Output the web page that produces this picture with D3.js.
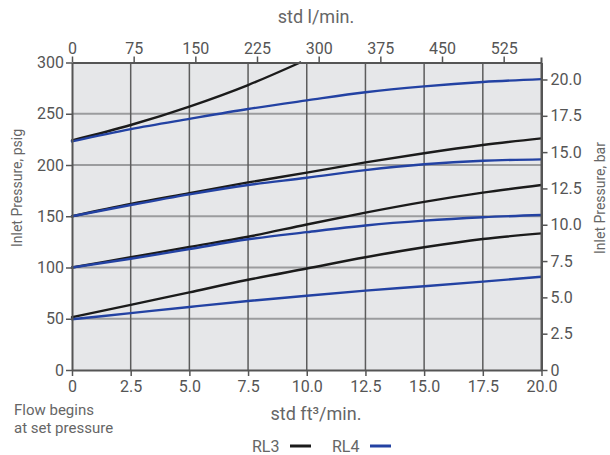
<!DOCTYPE html>
<html>
<head>
<meta charset="utf-8">
<script src="https://cdn.jsdelivr.net/npm/d3@7"></script>
<style>
  html, body { margin: 0; padding: 0; background: #fff; }
  svg { display: block; font-family: Roboto, "Noto Sans", sans-serif; }
</style>
</head>
<body>
<svg id="chart" width="610" height="455"></svg>
<script>
// ---- data ----
const flow = [0, 2.5, 5, 7.5, 10, 12.5, 15, 17.5, 20];
const flowTop = [0, 2.5, 5, 7.5, 9.72];
const rl3A = [224, 239, 257, 278, 300];
const rl3B = [150, 162, 172.5, 183, 192.5, 202.5, 211.5, 219.5, 226];
const rl3C = [100, 110, 120, 130, 142, 153.5, 164, 173, 180.5];
const rl3D = [51.5, 63.5, 75.8, 88, 99, 110, 119.7, 127.8, 133.3];
const rl4A = [223, 235, 245, 254.6, 263, 271, 276.7, 281, 283.8];
const rl4B = [150, 161, 171.4, 180.5, 187.5, 195, 200.7, 204.2, 205.5];
const rl4C = [100, 108.5, 118, 127.5, 134.5, 141, 145.7, 149, 151.2];
const rl4D = [49.5, 55.5, 61.5, 67.3, 72.5, 77.4, 81.7, 86.2, 91];

const xTicks = [0, 2.5, 5, 7.5, 10, 12.5, 15, 17.5, 20];
const topTicks = [0, 75, 150, 225, 300, 375, 450, 525];
const psigTicks = [0, 50, 100, 150, 200, 250, 300];
const barTicks = [0, 2.5, 5, 7.5, 10, 12.5, 15, 17.5, 20];
const seriesNames = ["RL3", "RL4"];
const seriesColors = ["#1b1b1b", "#2342a3"];

// ---- layout ----
const L = 72, R = 541.5, T = 62.5, B = 370;
const svg = d3.select("#chart");

const x = d3.scaleLinear().domain([0, 20]).range([L, R]);
const xTop = d3.scaleLinear().domain([0, 571]).range([L, R]);
const y = d3.scaleLinear().domain([0, 300]).range([B, T]);
const yBar = d3.scaleLinear().domain([0, 21.17]).range([B, T]);

// background
svg.append("rect").attr("x", L).attr("y", T).attr("width", R - L).attr("height", B - T)
  .attr("fill", "#e6e7e9");

// horizontal gridlines
svg.append("g").selectAll("line").data(psigTicks.filter(d => d > 0 && d < 300)).join("line")
  .attr("x1", L).attr("x2", R).attr("y1", d => y(d)).attr("y2", d => y(d))
  .attr("stroke", "#9b9c9e").attr("stroke-width", 2);
// vertical gridlines
svg.append("g").selectAll("line").data(xTicks.filter(d => d > 0 && d < 20)).join("line")
  .attr("x1", d => x(d)).attr("x2", d => x(d)).attr("y1", T).attr("y2", B)
  .attr("stroke", "#5c5c5c").attr("stroke-width", 1.5);

// curves
const line = d3.line().x(d => x(d[0])).y(d => y(d[1])).curve(d3.curveMonotoneX);
const curves = [
  { xs: flowTop, ys: rl3A, c: 0 },
  { xs: flow, ys: rl3B, c: 0 },
  { xs: flow, ys: rl3C, c: 0 },
  { xs: flow, ys: rl3D, c: 0 },
  { xs: flow, ys: rl4A, c: 1 },
  { xs: flow, ys: rl4B, c: 1 },
  { xs: flow, ys: rl4C, c: 1 },
  { xs: flow, ys: rl4D, c: 1 }
];
svg.append("g").selectAll("path").data(curves).join("path")
  .attr("d", d => line(d.xs.map((v, i) => [v, d.ys[i]])))
  .attr("fill", "none")
  .attr("stroke", d => seriesColors[d.c])
  .attr("stroke-width", 2.4)
  .attr("stroke-linecap", "round");

// axes
const axisColor = "#555";
const labelColor = "#555";
function styleAxis(g) {
  g.selectAll(".domain").attr("stroke", axisColor).attr("stroke-width", 2);
  g.selectAll(".tick line").attr("stroke", axisColor).attr("stroke-width", 1.5);
  g.selectAll(".tick text").attr("fill", labelColor).style("font-size", "16px")
    .style("font-family", "Roboto, sans-serif");
}
const fmt1 = d => d === 0 ? "0" : d3.format(".1f")(d);

svg.append("g").attr("transform", `translate(0,${B})`)
  .call(d3.axisBottom(x).tickValues(xTicks).tickFormat(fmt1).tickSize(6).tickSizeOuter(0).tickPadding(5))
  .call(styleAxis);
svg.append("g").attr("transform", `translate(0,${T})`)
  .call(d3.axisTop(xTop).tickValues(topTicks).tickFormat(d3.format("d")).tickSize(6).tickSizeOuter(0).tickPadding(3))
  .call(styleAxis);
svg.append("g").attr("transform", `translate(${L},0)`)
  .call(d3.axisLeft(y).tickValues(psigTicks).tickFormat(d3.format("d")).tickSize(6).tickSizeOuter(0).tickPadding(2))
  .call(styleAxis);
svg.append("g").attr("transform", `translate(${R},0)`)
  .call(d3.axisRight(yBar).tickValues(barTicks).tickFormat(fmt1).tickSize(6).tickSizeOuter(0).tickPadding(3))
  .call(styleAxis);
// right axis top extension
svg.append("line").attr("x1", R).attr("x2", R).attr("y1", T - 5).attr("y2", B)
  .attr("stroke", axisColor).attr("stroke-width", 2);

// titles
const titleColor = "#666";
svg.append("text").attr("x", 316).attr("y", 23).attr("text-anchor", "middle")
  .attr("fill", titleColor).style("font-size", "18px").text("std l/min.");
svg.append("text").attr("x", 316).attr("y", 420).attr("text-anchor", "middle")
  .attr("fill", titleColor).style("font-size", "18px").text("std ft³/min.");
svg.append("text").attr("transform", `translate(22,188) rotate(-90)`)
  .attr("text-anchor", "middle").attr("fill", titleColor).style("font-size", "14px")
  .text("Inlet Pressure, psig");
svg.append("text").attr("transform", `translate(605,198) rotate(-90)`)
  .attr("text-anchor", "middle").attr("fill", titleColor).style("font-size", "14px")
  .text("Inlet Pressure, bar");
const note = svg.append("text").attr("fill", titleColor).style("font-size", "15px");
note.append("tspan").attr("x", 14).attr("y", 415).text("Flow begins");
note.append("tspan").attr("x", 14).attr("y", 433).text("at set pressure");

// legend
const legX = [252, 332];
const leg = svg.append("g").selectAll("g").data(seriesNames).join("g")
  .attr("transform", (d, i) => `translate(${legX[i]},446)`);
leg.append("text").attr("x", 0).attr("y", 6).attr("fill", titleColor)
  .style("font-size", "16px").text(d => d);
leg.append("line").attr("x1", 38).attr("x2", 59).attr("y1", 0).attr("y2", 0)
  .attr("stroke", (d, i) => seriesColors[i]).attr("stroke-width", 3);
</script>
</body>
</html>
